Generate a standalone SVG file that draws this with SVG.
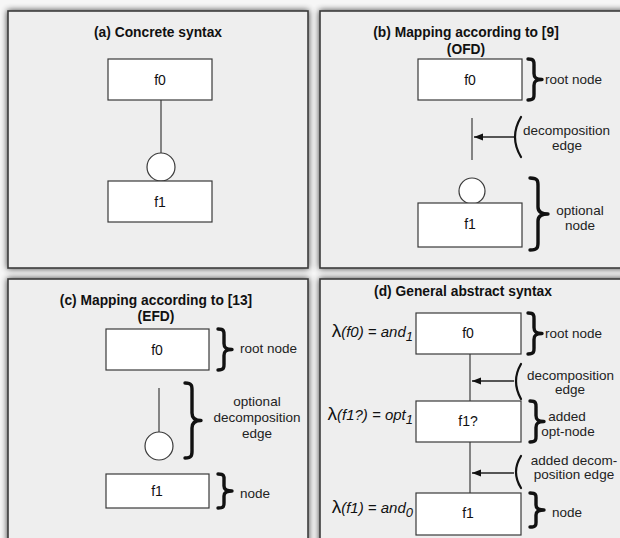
<svg xmlns="http://www.w3.org/2000/svg" width="620" height="538" viewBox="0 0 620 538">
<defs>
<filter id="sh" x="-10%" y="-10%" width="120%" height="120%">
<feGaussianBlur in="SourceAlpha" stdDeviation="3"/>
<feComponentTransfer><feFuncA type="linear" slope="0.75"/></feComponentTransfer>
<feMerge><feMergeNode/><feMergeNode in="SourceGraphic"/></feMerge>
</filter>
<marker id="ah" viewBox="0 0 10 10" refX="10" refY="5" markerWidth="9" markerHeight="9" orient="auto" markerUnits="userSpaceOnUse">
<path d="M0,1 L10,5 L0,9 z" fill="#111"/>
</marker>
<style>
.panel{fill:#eeeeee;stroke:#3c3c3c;stroke-width:1.6;filter:url(#sh)}
.box{fill:#fff;stroke:#3a3a3a;stroke-width:1.2}
.edge{stroke:#4a4a4a;stroke-width:1.3;fill:none}
.circ{fill:#fff;stroke:#3a3a3a;stroke-width:1.2}
.brace{fill:none;stroke:#111;stroke-width:3.4;stroke-linejoin:round;stroke-linecap:round}
.paren{fill:none;stroke:#111;stroke-width:2.2;stroke-linecap:round}
.arrow{stroke:#222;stroke-width:1.3;fill:none;marker-end:url(#ah)}
.title{font-family:"Liberation Sans",Arial,sans-serif;font-weight:bold;font-size:13.8px;text-anchor:middle;fill:#111}
.lbl{font-family:"Liberation Sans",Arial,sans-serif;font-size:14px;text-anchor:middle;fill:#111}
.ann{font-family:"Liberation Sans",Arial,sans-serif;font-size:13.5px;fill:#222}
.annc{font-family:"Liberation Sans",Arial,sans-serif;font-size:13.5px;fill:#222;text-anchor:middle}
.lam{font-family:"Liberation Sans",Arial,sans-serif;font-style:italic;font-size:15px;text-anchor:end;fill:#111}
</style>
</defs>
<rect x="0" y="0" width="620" height="538" fill="#f6f6f6"/>

<!-- panels -->
<g id="panels">
<rect class="panel" x="8" y="11" width="300" height="257"/>
<rect class="panel" x="320" y="11" width="310" height="257"/>
<rect class="panel" x="8" y="279" width="300" height="270"/>
<rect class="panel" x="320" y="279" width="310" height="270"/>
</g>

<!-- titles -->
<g id="titles">
<text class="title" x="158" y="37">(a) Concrete syntax</text>
<text class="title" x="466" y="37">(b) Mapping according to [9]</text>
<text class="title" x="466" y="54">(OFD)</text>
<text class="title" x="156" y="305">(c) Mapping according to [13]</text>
<text class="title" x="156" y="321">(EFD)</text>
<text class="title" x="463" y="296">(d) General abstract syntax</text>
</g>

<!-- connectors -->
<g id="connectors">
<line class="edge" x1="161" y1="100" x2="161" y2="153"/>
<line class="edge" x1="472" y1="118" x2="472" y2="160"/>
<line class="edge" x1="159" y1="388" x2="159" y2="432"/>
<line class="edge" x1="470" y1="354" x2="470" y2="401"/>
<line class="edge" x1="470" y1="442" x2="470" y2="493"/>
<circle class="circ" cx="161" cy="167" r="14"/>
<circle class="circ" cx="472" cy="191" r="13"/>
<circle class="circ" cx="159" cy="446" r="14"/>
<line class="arrow" x1="514" y1="137" x2="474" y2="137"/>
<line class="arrow" x1="514" y1="381" x2="472" y2="381"/>
<line class="arrow" x1="514" y1="473" x2="472" y2="473"/>
</g>

<!-- panel a nodes -->
<g id="a-f0"><rect class="box" x="108" y="59" width="104" height="41"/><text class="lbl" x="160" y="85">f0</text></g>
<g id="a-f1"><rect class="box" x="108" y="181" width="104" height="41"/><text class="lbl" x="160" y="207">f1</text></g>

<!-- panel b nodes -->
<g id="b-f0"><rect class="box" x="418" y="59" width="104" height="41"/><text class="lbl" x="470" y="85">f0</text></g>
<g id="b-f1"><rect class="box" x="418" y="203" width="104" height="44"/><text class="lbl" x="470" y="229">f1</text></g>

<!-- panel c nodes -->
<g id="c-f0"><rect class="box" x="106" y="329" width="103" height="41"/><text class="lbl" x="157" y="355">f0</text></g>
<g id="c-f1"><rect class="box" x="106" y="474" width="103" height="34"/><text class="lbl" x="157" y="496">f1</text></g>

<!-- panel d nodes -->
<g id="d-f0"><rect class="box" x="416" y="313" width="105" height="41"/><text class="lbl" x="468" y="338">f0</text></g>
<g id="d-f1q"><rect class="box" x="416" y="401" width="105" height="41"/><text class="lbl" x="468" y="426">f1?</text></g>
<g id="d-f1"><rect class="box" x="416" y="493" width="105" height="42"/><text class="lbl" x="468" y="518">f1</text></g>

<!-- annotations -->
<g id="ann-b">
<path class="brace" d="M528,59 C535,59 534,62 534,67 L534,73.5 C534,77.5 536,79.5 542,79.5 C536,79.5 534,81.5 534,85.5 L534,92 C534,97 535,100 528,100"/>
<text class="ann" x="545" y="84">root node</text>
<path class="paren" d="M521,117 Q509,137 521,157"/>
<text class="ann" x="523" y="135">decomposition</text>
<text class="annc" x="567" y="150">edge</text>
<path class="brace" d="M530,178 C539,178 538,182 538,188 L538,207 C538,211 540,214 548,214 C540,214 538,217 538,221 L538,240 C538,246 539,250 530,250"/>
<text class="annc" x="580" y="215">optional</text>
<text class="annc" x="580" y="230">node</text>
</g>

<g id="ann-c">
<path class="brace" d="M218,329 C225,329 224,332 224,337 L224,343.5 C224,347.5 226,349.5 232,349.5 C226,349.5 224,351.5 224,355.5 L224,362 C224,367 225,370 218,370"/>
<text class="ann" x="240" y="353">root node</text>
<path class="brace" d="M185,383 C193,383 192,387 192,393 L192,413 C192,417.5 194,420.5 201,420.5 C194,420.5 192,423.5 192,428 L192,448 C192,454 193,458 185,458"/>
<text class="annc" x="257" y="406">optional</text>
<text class="annc" x="257" y="422">decomposition</text>
<text class="annc" x="257" y="438">edge</text>
<path class="brace" d="M218,474 C225,474 224,477 224,481 L224,486 C224,489 226,491 232,491 C226,491 224,493 224,496 L224,501 C224,505 225,508 218,508"/>
<text class="ann" x="240" y="498">node</text>
</g>

<g id="ann-d">
<text class="lam" x="413" y="337"><tspan font-size="19" font-style="normal">λ</tspan>(f0) = and<tspan dy="4" font-size="13">1</tspan></text>
<text class="lam" x="413" y="420"><tspan font-size="19" font-style="normal">λ</tspan>(f1?) = opt<tspan dy="4" font-size="13">1</tspan></text>
<text class="lam" x="413" y="513"><tspan font-size="19" font-style="normal">λ</tspan>(f1) = and<tspan dy="4" font-size="13">0</tspan></text>
<path class="brace" d="M528,313 C535,313 534,316 534,321 L534,327.5 C534,331.5 536,333.5 542,333.5 C536,333.5 534,335.5 534,339.5 L534,346 C534,351 535,354 528,354"/>
<text class="ann" x="545" y="338">root node</text>
<path class="paren" d="M521,364 Q511,381 521,399"/>
<text class="ann" x="527" y="380">decomposition</text>
<text class="annc" x="570" y="394">edge</text>
<path class="brace" d="M530,401 C537,401 536,404 536,409 L536,415.5 C536,419.5 538,421.5 544,421.5 C538,421.5 536,423.5 536,427.5 L536,434 C536,439 537,442 530,442"/>
<text class="annc" x="567" y="421">added</text>
<text class="annc" x="568" y="436">opt-node</text>
<path class="paren" d="M521,456 Q511,472 521,488"/>
<text class="annc" x="574" y="465">added decom-</text>
<text class="annc" x="574" y="479">position edge</text>
<path class="brace" d="M530,493 C537,493 536,496 536,500 L536,505 C536,508 538,510 544,510 C538,510 536,512 536,515 L536,520 C536,524 537,527 530,527"/>
<text class="ann" x="552" y="517">node</text>
</g>
</svg>
